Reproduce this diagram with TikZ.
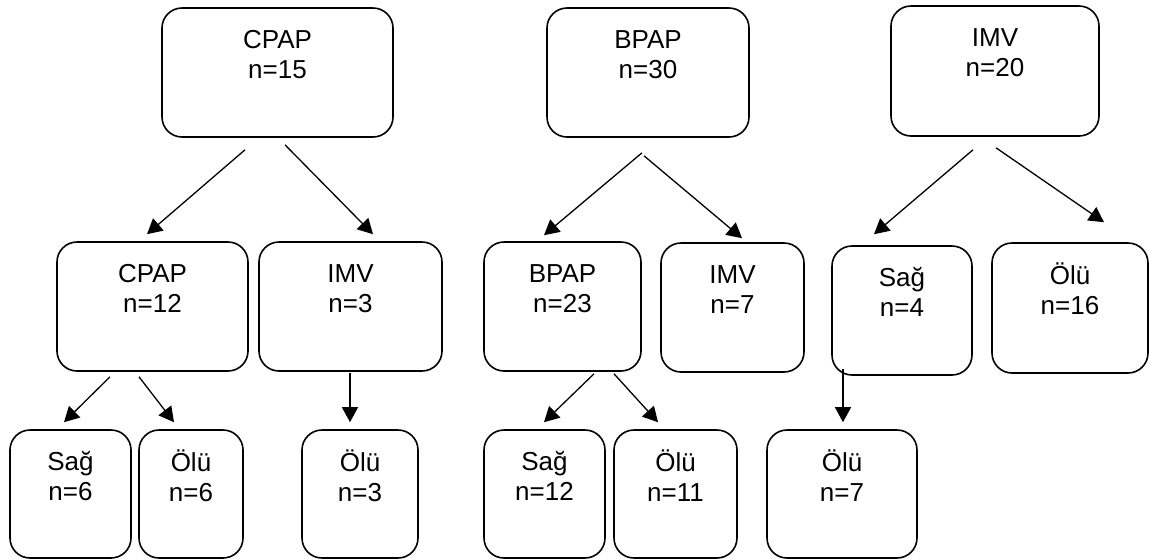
\documentclass[tikz,border=0pt]{standalone}
\usepackage{fontspec}
\setmainfont{Liberation Sans}
\usetikzlibrary{arrows.meta,calc}

\begin{document}
\begin{tikzpicture}[x=1pt,y=-1pt,>={Triangle[length=15pt,width=16pt]},
                    box/.style={draw,rounded corners=20pt,line width=1.6pt,inner sep=0pt},
                    txt/.style={anchor=north,align=center,inner sep=0pt,yshift=-20pt,
                                font=\fontsize{26}{30}\selectfont},
                    arr/.style={->,line width=1.3pt}]
  \useasboundingbox (0,0) rectangle (1149,558);
  % top row
  \node[box,minimum width=231pt,minimum height=129pt,label={[txt]north:{\strut CPAP\\n=15}}] (cpap15) at (277.5,72.5) {};
  \node[box,minimum width=202pt,minimum height=129pt,label={[txt]north:{\strut BPAP\\n=30}}] (bpap30) at (648,72.5) {};
  \node[box,minimum width=208pt,minimum height=130pt,label={[txt]north:{\strut IMV\\n=20}}] (imv20) at (995,71) {};
  % middle row
  \node[box,minimum width=191pt,minimum height=129pt,label={[txt]north:{\strut CPAP\\n=12}}] (cpap12) at (152.5,306.5) {};
  \node[box,minimum width=183pt,minimum height=129pt,label={[txt]north:{\strut IMV\\n=3}}] (imv3) at (350.5,306.5) {};
  \node[box,minimum width=157pt,minimum height=129pt,label={[txt]north:{\strut BPAP\\n=23}}] (bpap23) at (562.5,306.5) {};
  \node[box,minimum width=143pt,minimum height=129pt,label={[txt]north:{\strut IMV\\n=7}}] (imv7) at (732.5,307.5) {};
  \node[box,minimum width=140pt,minimum height=129pt,label={[txt]north:{\strut Sağ\\n=4}}] (sag4) at (902,310.5) {};
  \node[box,minimum width=156pt,minimum height=130pt,label={[txt]north:{\strut Ölü\\n=16}}] (olu16) at (1070,308) {};
  % bottom row
  \node[box,minimum width=121pt,minimum height=128pt,label={[txt]north:{\strut Sağ\\n=6}}] (sag6) at (70.5,494) {};
  \node[box,minimum width=104pt,minimum height=128pt,label={[txt]north:{\strut Ölü\\n=6}}] (olu6) at (191,494) {};
  \node[box,minimum width=116pt,minimum height=128pt,label={[txt]north:{\strut Ölü\\n=3}}] (olu3) at (360,494) {};
  \node[box,minimum width=121pt,minimum height=128pt,label={[txt]north:{\strut Sağ\\n=12}}] (sag12) at (544.5,494) {};
  \node[box,minimum width=123pt,minimum height=128pt,label={[txt]north:{\strut Ölü\\n=11}}] (olu11) at (675.5,494) {};
  \node[box,minimum width=150pt,minimum height=128pt,label={[txt]north:{\strut Ölü\\n=7}}] (olu7) at (842,494) {};

  \path[arr]
    ($(cpap15.south)+(-32.5,12)$) edge ($(cpap12.north)+(-5.5,-7)$)
    ($(cpap15.south)+(7.5,7)$)    edge ($(imv3.north)+(22.5,-7)$)
    ($(bpap30.south)+(-6,15)$)    edge ($(bpap23.north)+(-18.5,-6)$)
    ($(bpap30.south)+(-4,18)$)    edge ($(imv7.north)+(9.5,-4)$)
    ($(imv20.south)+(-22,13)$)    edge ($(sag4.north)+(-28,-11)$)
    ($(imv20.south)+(1,11)$)      edge ($(olu16.north)+(34,-20)$)
    ($(cpap12.south)+(-42.5,5)$)  edge ($(sag6.north)+(-6.5,-7)$)
    ($(cpap12.south)+(-13.5,5)$)  edge ($(olu6.north)+(-17,-7)$)
    ($(imv3.south)+(-0.5,1)$)     edge ($(olu3.north)+(-10,-7)$)
    ($(bpap23.south)+(31.5,2)$)   edge ($(sag12.north)+(-0.5,-7)$)
    ($(bpap23.south)+(51.5,2)$)   edge ($(olu11.north)+(-17.5,-7)$)
    ($(sag4.south)+(-59,-7)$)     edge ($(olu7.north)+(1,-7)$)
    ;
\end{tikzpicture}
\end{document}
